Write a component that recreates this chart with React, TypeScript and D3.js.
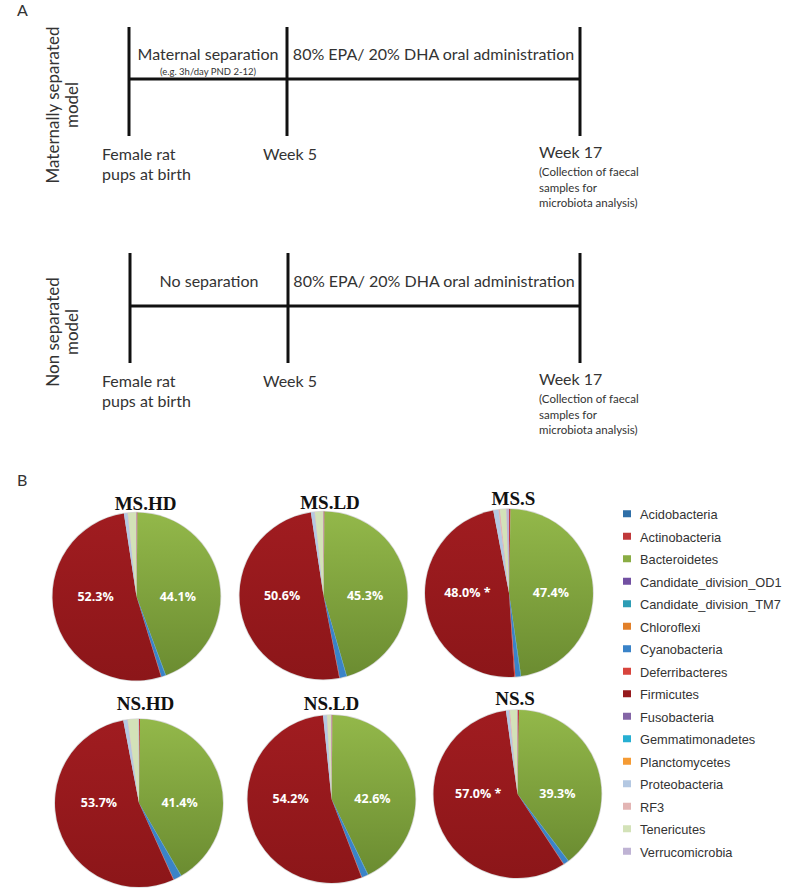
import React from "react";
import * as d3 from "d3";

// ---------- DATA ----------
const PHYLA = [
  "Acidobacteria", "Actinobacteria", "Bacteroidetes", "Candidate_division_OD1",
  "Candidate_division_TM7", "Chloroflexi", "Cyanobacteria", "Deferribacteres",
  "Firmicutes", "Fusobacteria", "Gemmatimonadetes", "Planctomycetes",
  "Proteobacteria", "RF3", "Tenericutes", "Verrucomicrobia",
];
const PHYLA_COLORS = [
  "#2f6fa8", "#c0393b", "#8aad44", "#7250a2", "#2d9db5", "#e2802a", "#3a83c8", "#d8443d",
  "#961a1d", "#8465a6", "#27afd2", "#f59b34", "#b4c8e2", "#e3b5b4", "#d3e2b8", "#bfb3d4",
];
const GROUPS = ["MS.HD", "MS.LD", "MS.S", "NS.HD", "NS.LD", "NS.S"];
const MS_HD = [0, 0.2, 44.1, 0, 0.1, 0, 0.8, 0.1, 52.3, 0, 0, 0, 0.7, 0.1, 1.5, 0.1];
const MS_LD = [0, 0.2, 45.3, 0, 0.1, 0, 1.3, 0.1, 50.6, 0, 0, 0, 0.7, 0.1, 1.5, 0.1];
const MS_S = [0, 0.3, 47.4, 0, 0.1, 0, 1.0, 0.2, 48.0, 0, 0, 0, 1.0, 0.3, 1.2, 0.5];
const NS_HD = [0, 0.2, 41.4, 0, 0.1, 0, 1.5, 0.1, 53.7, 0, 0, 0, 0.8, 0.1, 2.0, 0.1];
const NS_LD = [0, 0.2, 42.6, 0, 0.1, 0, 1.2, 0.1, 54.2, 0, 0, 0, 0.7, 0.1, 0.7, 0.1];
const NS_S = [0, 0.3, 39.3, 0, 0.1, 0, 1.0, 0.1, 57.0, 0, 0, 0, 0.6, 0.2, 1.3, 0.1];
const GROUP_VALUES = [MS_HD, MS_LD, MS_S, NS_HD, NS_LD, NS_S];
const SIGNIFICANT = [false, false, true, false, false, true];
const LABELLED = ["Bacteroidetes", "Firmicutes"];

// timeline texts
const TIMELINES = [
  { side: ["Maternally separated", "model"], phase1: "Maternal separation", note: "(e.g. 3h/day PND 2-12)" },
  { side: ["Non separated", "model"], phase1: "No separation", note: "" },
];
const PHASE2 = "80% EPA/ 20% DHA oral administration";
const START_LABEL = ["Female rat", "pups at birth"];
const MID_LABEL = "Week 5";
const END_LABEL = "Week 17";
const END_NOTE = ["(Collection of faecal", "samples for", "microbiota analysis)"];

// ---------- LAYOUT ----------
const W = 799, H = 891;
const PIE_LAYOUT = [
  { cx: 136.5, cy: 596.5, tx: 145.5, ty: 510 },
  { cx: 323.5, cy: 595.5, tx: 330, ty: 509 },
  { cx: 509, cy: 593, tx: 513.5, ty: 505 },
  { cx: 139, cy: 803, tx: 145.5, ty: 710 },
  { cx: 331.5, cy: 799, tx: 331.5, ty: 710 },
  { cx: 517.5, cy: 794, tx: 515, ty: 705 },
];
const R = 84;
const TL_LAYOUT = [
  { top: 27, bottom: 136, mid: 79, x0: 129, x1: 287, x2: 580, y0: 0, sideY: 105 },
  { top: 253, bottom: 363, mid: 306, x0: 130, x1: 288, x2: 580, y0: 227, sideY: 332 },
];
const SANS = "Lato, 'Open Sans', sans-serif";
const TXT = "#333";

function Timeline({ i }: { i: number }) {
  const t = TIMELINES[i];
  const L = TL_LAYOUT[i];
  const y0 = L.y0;
  return (
    <g>
      <g stroke="#111" strokeWidth={3}>
        <line x1={L.x0} x2={L.x0} y1={L.top} y2={L.bottom} />
        <line x1={L.x1} x2={L.x1} y1={L.top} y2={L.bottom} />
        <line x1={L.x2} x2={L.x2} y1={L.top} y2={L.bottom} />
        <line x1={L.x0} x2={L.x2} y1={L.mid} y2={L.mid} />
      </g>
      <g fontFamily={SANS} fill={TXT}>
        <text transform={`translate(59,${L.sideY}) rotate(-90)`} textAnchor="middle" fontSize={17}>
          <tspan x={0} y={0}>{t.side[0]}</tspan>
          <tspan x={0} y={19}>{t.side[1]}</tspan>
        </text>
        <text x={(L.x0 + L.x1) / 2} y={L.mid - 19} textAnchor="middle" fontSize={16}>{t.phase1}</text>
        {t.note && (
          <text x={(L.x0 + L.x1) / 2} y={L.mid - 4} textAnchor="middle" fontSize={9.5}>{t.note}</text>
        )}
        <text x={(L.x1 + L.x2) / 2} y={L.mid - 19} textAnchor="middle" fontSize={16}>{PHASE2}</text>
        <text x={102} y={y0 + 160} fontSize={16}>
          <tspan x={102} dy={0}>{START_LABEL[0]}</tspan>
          <tspan x={102} dy={20}>{START_LABEL[1]}</tspan>
        </text>
        <text x={263} y={y0 + 160} fontSize={16}>{MID_LABEL}</text>
        <text x={539} y={y0 + 158} fontSize={16}>{END_LABEL}</text>
        <text fontSize={11.5} y={y0 + 176}>
          {END_NOTE.map((s, k) => (
            <tspan key={k} x={539} dy={k === 0 ? 0 : 15.5}>{s}</tspan>
          ))}
        </text>
      </g>
    </g>
  );
}

function Pie({ g }: { g: number }) {
  const vals = GROUP_VALUES[g];
  const L = PIE_LAYOUT[g];
  const data = PHYLA.map((p, k) => ({ name: p, value: vals[k], color: PHYLA_COLORS[k] }));
  const arcs = d3.pie<any>().value((d) => d.value).sort(null)(data);
  const arc = d3.arc<any>().innerRadius(0).outerRadius(R);
  const lab = d3.arc<any>().innerRadius(42).outerRadius(42);
  const fillFor = (name: string, color: string) =>
    name === "Bacteroidetes" ? "url(#gGreen)" : name === "Firmicutes" ? "url(#gRed)" : color;
  return (
    <g>
      <text x={L.tx} y={L.ty} textAnchor="middle" fontFamily="'Liberation Serif', 'Times New Roman', serif" fontWeight="bold" fontSize={19} fill="#111">{GROUPS[g]}</text>
      <g transform={`translate(${L.cx},${L.cy})`}>
        <circle r={R + 0.8} fill="#d8d8d8" />
        {arcs.filter((a) => a.value > 0).map((a, k) => (
          <path key={k} d={arc(a) as string} fill={fillFor(a.data.name, a.data.color)} />
        ))}
        {arcs.filter((a) => LABELLED.includes(a.data.name)).map((a, k) => {
          const [x] = lab.centroid(a);
          const txt = d3.format(".1f")(a.data.value) + "%" + (a.data.name === "Firmicutes" && SIGNIFICANT[g] ? " *" : "");
          return (
            <text key={k} x={x} y={4} textAnchor="middle" fill="#fff" fontFamily="'Open Sans', sans-serif" fontWeight="bold" fontSize={12.5}>{txt}</text>
          );
        })}
      </g>
    </g>
  );
}

function Legend() {
  const y = d3.scaleBand<string>().domain(PHYLA).range([503, 863]);
  return (
    <g fontFamily="'Liberation Sans', Arial, sans-serif" fontSize={12.8} fill="#333">
      {PHYLA.map((p, k) => {
        const yc = (y(p) as number) + y.bandwidth() / 2;
        return (
          <g key={p}>
            <rect x={623} y={yc - 4} width={8} height={7} fill={PHYLA_COLORS[k]} />
            <text x={640} y={yc + 5}>{p}</text>
          </g>
        );
      })}
    </g>
  );
}

export default function App() {
  return (
    <svg width={W} height={H} viewBox={`0 0 ${W} ${H}`} style={{ position: "absolute", left: 0, top: 0, background: "#fff" }}>
      <defs>
        <linearGradient id="gGreen" x1="0" y1="0" x2="0" y2="1">
          <stop offset="0" stopColor="#93b84a" />
          <stop offset="1" stopColor="#6b8c31" />
        </linearGradient>
        <linearGradient id="gRed" x1="0" y1="0" x2="0" y2="1">
          <stop offset="0" stopColor="#a01c20" />
          <stop offset="1" stopColor="#8c1619" />
        </linearGradient>
      </defs>
      <rect width={W} height={H} fill="#fff" />
      <text x={17} y={16} fontFamily={SANS} fontSize={16} fill={TXT}>A</text>
      <text x={17} y={486} fontFamily={SANS} fontSize={16} fill={TXT}>B</text>
      <Timeline i={0} />
      <Timeline i={1} />
      {GROUPS.map((_, g) => <Pie key={g} g={g} />)}
      <Legend />
    </svg>
  );
}
